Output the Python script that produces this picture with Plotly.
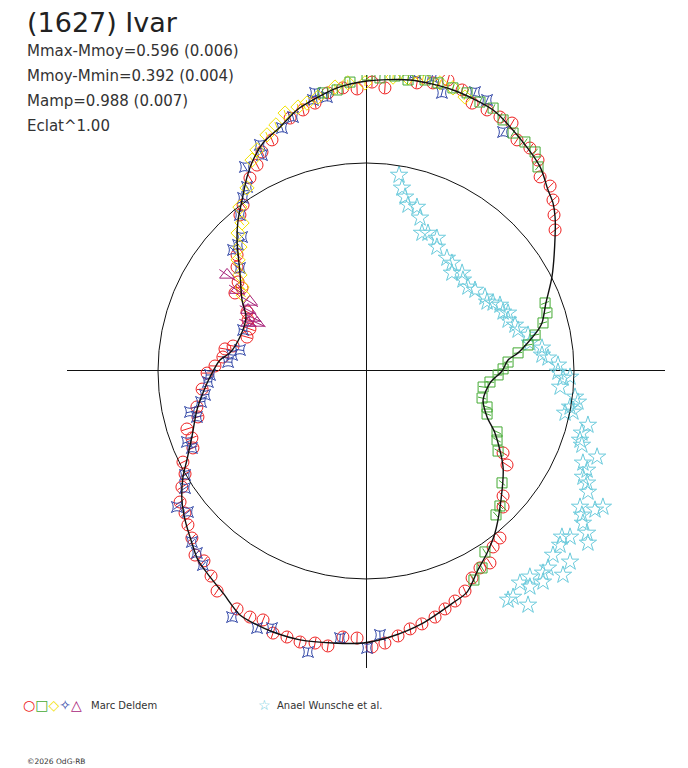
import numpy as np
import plotly.graph_objects as go

W, H = 688, 768

# all positions in units of the mean-level circle (radius 1), centre at 0,0
fit_x = [0.654, 0.683, 0.731, 0.817, 0.846, 0.865, 0.894, 0.909, 0.909, 0.899, 0.875, 0.837,
         0.726, 0.611, 0.418, 0.212, 0.005, -0.139, -0.255, -0.332, -0.413, -0.495, -0.543,
         -0.572, -0.596, -0.615, -0.620, -0.606, -0.596, -0.577, -0.606, -0.654, -0.702,
         -0.750, -0.784, -0.813, -0.837, -0.861, -0.880, -0.885, -0.870, -0.837, -0.808,
         -0.750, -0.688, -0.606, -0.524, -0.447, -0.317, -0.159, -0.014, 0.115, 0.274, 0.418,
         0.486, 0.538, 0.582, 0.620, 0.649, 0.659, 0.620, 0.582, 0.563, 0.596, 0.654]
fit_y = [0.000, 0.053, 0.087, 0.183, 0.231, 0.327, 0.452, 0.644, 0.740, 0.808, 0.870, 0.981,
         1.135, 1.255, 1.351, 1.399, 1.394, 1.361, 1.303, 1.255, 1.173, 1.096, 1.014,
         0.933, 0.822, 0.726, 0.630, 0.471, 0.341, 0.260, 0.163, 0.087, 0.053,
         -0.029, -0.106, -0.188, -0.317, -0.428, -0.510, -0.620, -0.716, -0.827, -0.909,
         -0.990, -1.067, -1.173, -1.221, -1.255, -1.293, -1.308, -1.308, -1.279, -1.212, -1.115,
         -1.063, -0.957, -0.875, -0.779, -0.620, -0.462, -0.298, -0.221, -0.139, -0.058, 0.000]

red_x = [-0.620, -0.606, -0.591, -0.558, -0.524, -0.500, -0.452, -0.365, -0.303, -0.245, -0.183,
         -0.111, -0.043, 0.029, 0.091, 0.245, 0.322, 0.394, 0.462, 0.510, 0.582, 0.644, 0.702,
         0.726, 0.788, 0.827, 0.837, 0.885, 0.899, 0.904, 0.909, 0.659, 0.678, 0.659, 0.659,
         0.644, 0.611, 0.596, 0.548, 0.510, 0.476, 0.428, 0.380, 0.332, 0.269, 0.212, 0.154,
         0.091, 0.029, -0.043, -0.111, -0.183, -0.245, -0.317, -0.380, -0.447, -0.495, -0.558,
         -0.620, -0.716, -0.745, -0.779, -0.822, -0.837, -0.856, -0.870, -0.894, -0.885, -0.870,
         -0.880, -0.832, -0.837, -0.861, -0.808, -0.813, -0.788, -0.764, -0.726, -0.688, -0.678,
         -0.639, -0.572, -0.558, -0.567, -0.572, -0.630, -0.596, -0.615, -0.620]
red_y = [0.558, 0.750, 0.798, 0.928, 0.990, 1.053, 1.111, 1.216, 1.255, 1.288, 1.337,
         1.361, 1.356, 1.389, 1.361, 1.385, 1.385, 1.399, 1.351, 1.288, 1.255, 1.221, 1.192,
         1.111, 1.072, 1.014, 0.933, 0.889, 0.822, 0.750, 0.678, -0.394, -0.452, -0.601, -0.654,
         -0.803, -0.846, -0.923, -0.947, -0.995, -1.058, -1.106, -1.144, -1.183, -1.216, -1.240,
         -1.274, -1.308, -1.327, -1.284, -1.279, -1.322, -1.308, -1.303, -1.279, -1.260, -1.197,
         -1.183, -1.144, -1.058, -0.986, -0.913, -0.885, -0.803, -0.740, -0.683, -0.630, -0.558,
         -0.495, -0.438, -0.370, -0.322, -0.279, -0.221, -0.173, -0.087, -0.010, 0.024, 0.067,
         0.106, 0.120, 0.163, 0.202, 0.245, 0.284, 0.375, 0.399, 0.428, 0.500]

green_x = [-0.207, -0.139, -0.077, 0.005, 0.067, 0.139, 0.202, 0.284, 0.346, 0.418, 0.486,
           0.548, 0.611, 0.659, 0.707, 0.764, 0.813, 0.827, 0.861, 0.870, 0.851, 0.813, 0.779,
           0.731, 0.683, 0.659, 0.635, 0.596, 0.563, 0.558, 0.582, 0.582, 0.630, 0.630, 0.635,
           0.654, 0.644, 0.625, 0.572, 0.558, 0.519]
green_y = [1.337, 1.351, 1.389, 1.423, 1.409, 1.418, 1.399, 1.399, 1.385, 1.361, 1.337,
           1.293, 1.264, 1.207, 1.144, 1.101, 1.053, 0.981, 0.327, 0.279, 0.231, 0.173, 0.125,
           0.087, 0.043, 0.010, -0.019, -0.053, -0.077, -0.130, -0.173, -0.207, -0.293, -0.332,
           -0.385, -0.538, -0.649, -0.692, -0.870, -0.947, -1.005]

yellow_x = [-0.615, -0.596, -0.606, -0.572, -0.548, -0.524, -0.476, -0.433, -0.389, -0.327,
            -0.284, -0.231, -0.149, -0.087, -0.005, 0.130, 0.202, 0.274, 0.356, 0.418, 0.476,
            -0.606, -0.615, -0.606, -0.596, -0.591]
yellow_y = [0.663, 0.712, 0.788, 0.880, 1.014, 1.063, 1.135, 1.183, 1.240, 1.269,
            1.288, 1.317, 1.365, 1.385, 1.385, 1.413, 1.409, 1.409, 1.385, 1.361, 1.317,
            0.596, 0.534, 0.462, 0.404, 0.365]

blue_x = [-0.639, -0.596, -0.606, -0.591, -0.572, -0.582, -0.510, -0.500, -0.404, -0.351,
          -0.255, -0.245, -0.188, 0.236, 0.317, 0.365, 0.524, 0.582, 0.659, -0.615, -0.606,
          -0.591, -0.606, -0.644, -0.663, -0.750, -0.760, -0.774, -0.793, -0.846, -0.813,
          -0.861, -0.837, -0.870, -0.870, -0.909, -0.856, -0.837, -0.813, -0.784, -0.644,
          -0.524, -0.452, -0.279, -0.125, 0.005, 0.067]
blue_y = [0.582, 0.644, 0.750, 0.832, 0.885, 0.981, 1.087, 1.038, 1.168, 1.221,
          1.303, 1.337, 1.317, 1.433, 1.413, 1.337, 1.341, 1.303, 1.149, 0.606, 0.495,
          0.197, 0.101, 0.077, 0.043, -0.019, -0.053, -0.115, -0.149, -0.197, -0.221,
          -0.341, -0.370, -0.500, -0.563, -0.654, -0.678, -0.822, -0.875, -0.933, -1.183,
          -1.236, -1.236, -1.351, -1.284, -1.332, -1.269]

magenta_x = [-0.668, -0.620, -0.558, -0.567, -0.543, -0.524, -0.567]
magenta_y = [0.462, 0.389, 0.332, 0.293, 0.255, 0.231, 0.231]

cyan_x = [0.159, 0.173, 0.188, 0.202, 0.245, 0.260, 0.269, 0.298, 0.341, 0.341, 0.389, 0.413,
          0.413, 0.462, 0.466, 0.490, 0.524, 0.572, 0.582, 0.611, 0.644, 0.659, 0.683, 0.683,
          0.716, 0.731, 0.779, 0.788, 0.846, 0.846, 0.875, 0.923, 0.923, 0.947, 0.981, 0.933,
          1.005, 1.019, 0.981, 0.957, 0.995, 1.067, 1.038, 1.029, 1.038, 1.111, 1.043, 1.063,
          1.043, 1.063, 1.067, 1.029, 1.038, 1.043, 1.101, 1.139, 1.063, 1.067, 0.942, 0.981,
          0.933, 0.899, 0.981, 0.875, 0.851, 0.851, 0.947, 0.788, 0.740, 0.788, 0.707, 0.683,
          0.779]
cyan_y = [0.942, 0.880, 0.837, 0.798, 0.788, 0.736, 0.663, 0.663, 0.639, 0.596, 0.543, 0.519,
          0.471, 0.471, 0.438, 0.404, 0.389, 0.356, 0.332, 0.327, 0.317, 0.284, 0.279, 0.245,
          0.221, 0.197, 0.173, 0.135, 0.111, 0.077, 0.063, 0.029, -0.005, -0.034, -0.029, -0.077,
          -0.125, -0.149, -0.173, -0.202, -0.197, -0.260, -0.298, -0.332, -0.356, -0.413, -0.442,
          -0.476, -0.510, -0.538, -0.582, -0.654, -0.692, -0.731, -0.668, -0.654, -0.779, -0.827,
          -0.798, -0.798, -0.837, -0.885, -0.918, -0.947, -0.971, -1.014, -0.981, -0.990, -1.019,
          -1.038, -1.087, -1.101, -1.125]

info_lines = ["Mmax-Mmoy=0.596 (0.006)", "Mmoy-Mmin=0.392 (0.004)",
              "Mamp=0.988 (0.007)", "Eclat^1.00"]

RED, GREEN, YELLOW, BLUE, MAGENTA, CYAN = ("#ee2020", "#44aa33", "#f2e200",
                                           "#3348a8", "#a8237a", "#6ccbdc")


def radial_bars(xs, ys, err):
    bx, by = [], []
    for x, y in zip(xs, ys):
        r = np.hypot(x, y)
        bx += [x - err * x / r, x + err * x / r, None]
        by += [y - err * y / r, y + err * y / r, None]
    return bx, by


fig = go.Figure()

fig.add_trace(go.Scatter(x=cyan_x, y=cyan_y, mode="markers",
                         marker=dict(symbol="star-open", size=13, color=CYAN, line=dict(width=1))))

series = [
    (red_x, red_y, "circle-open", 12, RED, 0.025),
    (blue_x, blue_y, "star-square-open", 10, BLUE, 0.02),
    (yellow_x, yellow_y, "diamond-open", 11, YELLOW, 0.015),
    (green_x, green_y, "square-open", 10, GREEN, 0.02),
    (magenta_x, magenta_y, "triangle-up-open", 13, MAGENTA, 0.045),
]
for xs, ys, sym, size, col, err in series:
    bx, by = radial_bars(xs, ys, err)
    fig.add_trace(go.Scatter(x=bx, y=by, mode="lines", line=dict(color=col, width=1)))
    fig.add_trace(go.Scatter(x=xs, y=ys, mode="markers",
                             marker=dict(symbol=sym, size=size, color=col, line=dict(width=1))))

fig.add_trace(go.Scatter(x=fit_x, y=fit_y, mode="lines",
                         line=dict(color="#111111", width=1.4, shape="spline", smoothing=0.8)))

# mean-level circle
fig.add_shape(type="circle", xref="x", yref="y", x0=-1, y0=-1, x1=1, y1=1,
              line=dict(color="#111111", width=1))


def px(x, y):
    return x / W, 1 - y / H


ann = []
tx, ty = px(25, 22)
ann.append(dict(x=tx, y=ty, text="(1627) Ivar", font=dict(size=27, color="#222222")))
for i, line in enumerate(info_lines):
    tx, ty = px(25, 51 + 25 * i)
    ann.append(dict(x=tx, y=ty, text=line, font=dict(size=15, color="#333333")))

glyphs = "".join('<span style="color:%s">%s</span>' % (c, g) for c, g in
                 [(RED, "○"), (GREEN, "□"), (YELLOW, "◇"), (BLUE, "✧"), (MAGENTA, "△")])
tx, ty = px(21, 705)
ann.append(dict(x=tx, y=ty, text=glyphs, font=dict(size=14)))
tx, ty = px(89, 705)
ann.append(dict(x=tx, y=ty, text="Marc Deldem", font=dict(size=10, color="#333333")))
tx, ty = px(256, 705)
ann.append(dict(x=tx, y=ty, text="☆", font=dict(size=14, color=CYAN)))
tx, ty = px(275, 705)
ann.append(dict(x=tx, y=ty, text="Anael Wunsche et al.", font=dict(size=10, color="#333333")))
tx, ty = px(25, 761)
ann.append(dict(x=tx, y=ty, text="©2026 OdG-RB", font=dict(size=7.5, color="#333333")))

for a in ann:
    a.update(xref="paper", yref="paper", xanchor="left", yanchor="middle", showarrow=False)

fig.update_layout(
    width=W, height=H,
    margin=dict(l=0, r=0, t=0, b=0),
    paper_bgcolor="white", plot_bgcolor="white",
    showlegend=False, hovermode=False,
    font=dict(family="DejaVu Sans"),
    annotations=ann,
    xaxis=dict(domain=[67 / W, 665 / W], range=[-1.4375, 1.4375], showgrid=False,
               showticklabels=False, ticks="", zeroline=True, zerolinecolor="#111111",
               zerolinewidth=1),
    yaxis=dict(domain=[1 - 668 / H, 1 - 75 / H], range=[-1.428, 1.423], showgrid=False,
               showticklabels=False, ticks="", zeroline=True, zerolinecolor="#111111",
               zerolinewidth=1),
)

fig.write_html("out.html", config={"displayModeBar": False},
               post_script="document.body.style.margin='0px';")
